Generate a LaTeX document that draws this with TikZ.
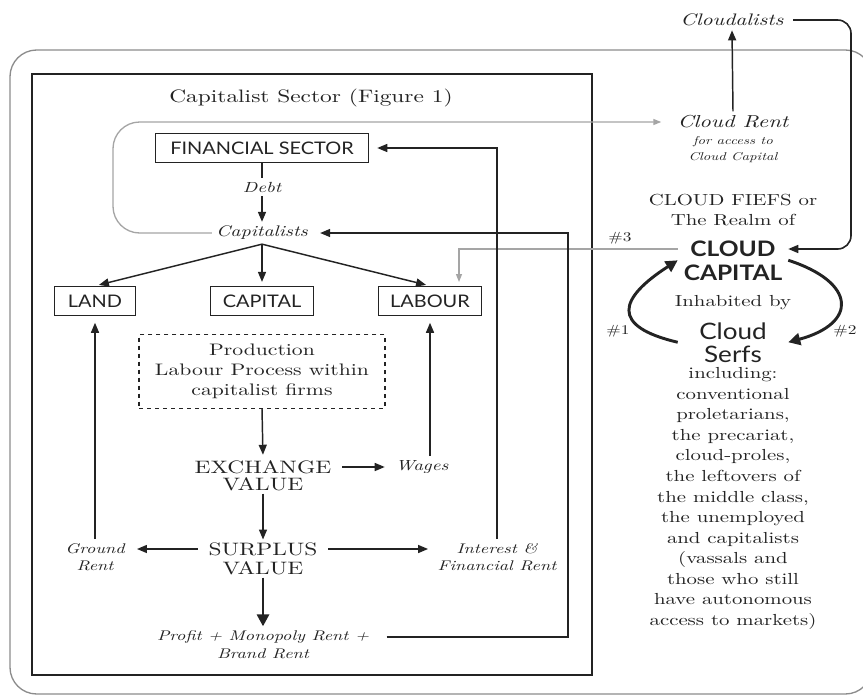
\documentclass[tikz,border=0pt]{standalone}
\usepackage{fontspec}
\setmainfont{lmroman10-regular.otf}[ItalicFont=lmroman10-italic.otf,BoldFont=lmroman10-bold.otf,FakeStretch=1.3]
\setsansfont{Lato}[FakeStretch=1.15]
\usetikzlibrary{arrows.meta,positioning}

\definecolor{ink}{RGB}{35,35,35}
\definecolor{loopgray}{RGB}{165,165,165}
\definecolor{framegray}{RGB}{140,140,140}

\tikzset{
  every node/.style={text=ink},
  sbox/.style={draw=ink, line width=0.9pt, font=\sffamily\fontsize{13}{15}\selectfont, minimum height=21.75pt, inner sep=2pt},
  caps/.style={font=\fontsize{13.5}{15}\selectfont, inner sep=2pt},
  ital/.style={font=\itshape\fontsize{10.5}{12.75}\selectfont, align=center, inner sep=3pt},
  arr/.style={draw=ink, line width=1.1pt, -{Triangle[length=7.5pt,width=6pt]}},
  thickarr/.style={draw=ink, line width=2.2pt, -{Triangle[length=9pt,width=9pt]}},
  grayarr/.style={draw=loopgray, line width=1pt, -{Triangle[length=6pt,width=4.5pt]}},
  plain/.style={draw=ink, line width=1.1pt},
  cloudword/.style={font=\sffamily\fontsize{17}{19}\selectfont, minimum width=82.5pt, minimum height=16.5pt, inner sep=0pt},
}

\begin{document}
\begin{tikzpicture}[x=0.75pt,y=0.75pt,yscale=-1,xscale=1]
\useasboundingbox (0,0) rectangle (863,696);
\clip (0,0) rectangle (863,696);

%Shape: Rounded Rect [outer frame]
\draw [framegray, line width=1pt, rounded corners=20pt] (10,50) rectangle (872,694);
%Shape: Rectangle [capitalist sector]
\draw [ink, line width=1.5pt] (32,74) rectangle (592,675);

% Text Node
\node [font=\fontsize{13.5}{16}\selectfont] (title) at (311,98) {Capitalist Sector (Figure 1)};
% Text Node
\node [sbox, minimum width=160pt] (fin) at (262,148) {FINANCIAL SECTOR};
% Text Node
\node [ital, font=\itshape\fontsize{11}{13}\selectfont] (debt) at (262,187) {Debt};
% Text Node
\node [ital, font=\itshape\fontsize{11.5}{13}\selectfont] (capst) at (262,233) {Capitalists};
% Text Node
\node [sbox, minimum width=61pt] (land) at (95,301) {LAND};
\node [sbox, minimum width=77pt] (capital) at (262,301) {CAPITAL};
\node [sbox, minimum width=77pt] (labour) at (430,301) {LABOUR};
% Text Node
\node [draw=ink, dashed, line width=0.8pt, minimum width=184.5pt, minimum height=55pt, align=center, font=\fontsize{12.5}{15}\selectfont] (prod) at (262,371.5) {Production\\Labour Process within\\capitalist firms};
% Text Node
\node [caps] (exchA) at (263,467) {EXCHANGE};
\node [caps] (exchB) at (263,484) {VALUE};
\node [ital, font=\itshape\fontsize{11}{13}\selectfont] (wages) at (422,467) {Wages};
% Text Node
\node [caps] (surA) at (263,549) {SURPLUS};
\node [caps] (surB) at (263,568) {VALUE};
\node [ital] (ground) at (95,557) {Ground\\Rent};
\node [ital] (interest) at (497,557) {Interest \&\\Financial Rent};
% Text Node
\node [ital] (profA) at (263,637) {Profit + Monopoly Rent +};
\node [ital] (profB) at (263,654) {Brand Rent};

% Text Node
\node [ital, font=\itshape\fontsize{12.5}{14}\selectfont] (cloudalists) at (732,20) {Cloudalists};
\node [ital, font=\itshape\fontsize{13}{14}\selectfont] (cloudrent) at (733,122) {Cloud Rent};
\node [ital, font=\itshape\fontsize{8.5}{12}\selectfont] (access) at (733,150) {for access to\\Cloud Capital};
% Text Node
\node [align=center, font=\fontsize{12}{15}\selectfont] (fiefs) at (733,210) {CLOUD FIEFS or\\The Realm of};
\node [cloudword, font=\sffamily\bfseries\fontsize{16}{18}\selectfont] (cloudA) at (733,249) {CLOUD};
\node [cloudword, font=\sffamily\bfseries\fontsize{16}{18}\selectfont] (cloudB) at (733,273) {CAPITAL};
\node [font=\fontsize{12}{14}\selectfont] (inhab) at (733,303) {Inhabited by};
\node [cloudword] (serfA) at (733,331) {Cloud};
\node [cloudword] (serfB) at (733,354) {Serfs};
% Text Node
\node [align=center, font=\fontsize{12}{15.4}\selectfont] (incl) at (733,498.5) {including:\\conventional\\proletarians,\\the precariat,\\cloud-proles,\\the leftovers of\\the middle class,\\the unemployed\\and capitalists\\(vassals and\\those who still\\have autonomous\\access to markets)};
% Text Node
\node [font=\fontsize{10}{12}\selectfont] (h1) at (618,331) {\#1};
\node [font=\fontsize{10}{12}\selectfont] (h2) at (845,331) {\#2};
\node [font=\fontsize{10}{12}\selectfont] (h3) at (620,238) {\#3};

\coordinate (loopc) at (113,180);
\coordinate (lab3) at (459,286);
\coordinate (pcorner) at (568,400);
\coordinate (rtc) at (851,249);

%Gray Lines
\draw [grayarr, rounded corners=20pt, shorten >=9pt] (capst.west) -| (loopc) |- (cloudrent.west);
\draw [grayarr, shorten >=3pt] (cloudA.west) -| (lab3);

%Straight Lines
\draw [plain] (fin.south) -- (debt.north);
\draw [arr] (debt.south) -- (capst.north);
\draw [arr, shorten >=3pt] (capst.south) -- (land.north);
\draw [arr, shorten >=3pt] (capst.south) -- (capital.north);
\draw [arr, shorten >=3pt] (capst.south) -- (labour.north);
\draw [arr, shorten >=2pt] (prod.south) -- (exchA.north);
\draw [arr, shorten <=6pt, shorten >=5pt] (exchA.east) -- (exchA.east -| wages.west);
\draw [arr, shorten >=5pt] (wages.north -| labour.south) -- (labour.south);
\draw [arr] (exchB.south) -- (surA.north);
\draw [arr, shorten <=6pt, shorten >=6pt] (surA.west) -- (surA.west -| ground.east);
\draw [arr, shorten <=6pt, shorten >=4pt] (surA.east) -- (surA.east -| interest.west);
\draw [arr, shorten >=5pt] (ground.north) -- (land.south);
\draw [thickarr] (surB.south) -- (profA.north);
\draw [arr, shorten >=6pt] (interest.north) |- (fin.east);
\draw [arr, shorten <=10pt, shorten >=6pt] (profA.east) -| (pcorner) |- (capst.east);

%Straight Lines [cloud side]
\draw [arr] (cloudrent.north) -- (cloudalists.south);
\draw [arr, line width=1.2pt, rounded corners=10pt, shorten <=4pt] (cloudalists.east) -| (rtc) -- (cloudA.east);

%Curve Lines
\draw [thickarr] (serfA.south west) .. controls +(-68,-16) and +(-59,38) .. (cloudA.south west);
\draw [thickarr] (cloudA.south east) .. controls +(68,22) and +(70,-19) .. (serfA.south east);

\end{tikzpicture}
\end{document}
